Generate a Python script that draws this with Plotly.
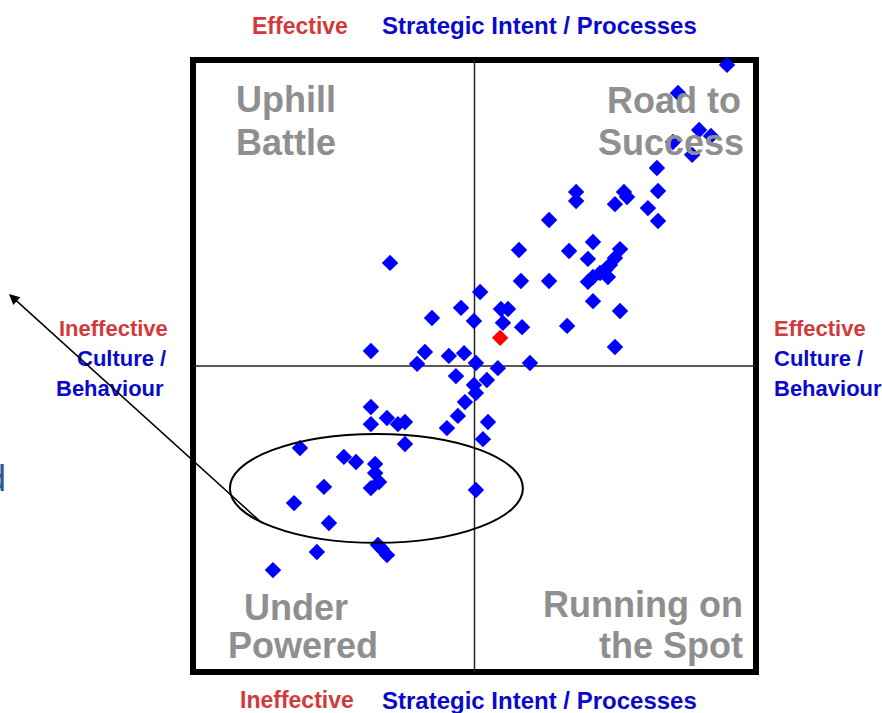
import plotly.graph_objects as go

# ---- data (scores on a -10..10 scale) ----
strategy_scores = [8.97, 7.23, 7.98, 8.40, 7.05, 7.73, 6.48, 3.61, 3.61, 5.31, 5.42, 4.99, 6.52, 6.16,
                   6.52, 2.65, 1.58, 3.36, 4.21, 4.03, 5.17, 4.99, 4.81, 4.64, 4.46, 4.21, 4.03, 4.74,
                   1.65, 2.65, 4.21, 5.17, 0.94, 1.19, 1.01, 1.69, 3.29, 4.99, 0.83, 1.97, -3.00, 0.20,
                   -0.48, -1.51, -0.02, -3.68, -1.76, -2.04, -0.91, -0.37, 0.05, -0.66, 0.44, -0.02, 0.05,
                   -0.34, -3.68, -0.59, -0.98, 0.48, 0.30, -3.68, -3.11, -2.72, -2.47, -2.47, -6.20, -4.64,
                   -4.21, -3.53, -3.53, -3.39, -3.68, -5.35, 0.05, -6.41, -5.17, -3.43, -3.29, -3.11, -5.60,
                   -7.16]
culture_scores = [9.84, 8.92, 7.71, 7.52, 7.32, 6.90, 6.47, 5.69, 5.39, 5.69, 5.52, 5.29, 5.72, 5.16,
                  4.74, 4.77, 3.79, 3.76, 4.05, 3.50, 3.82, 3.53, 3.30, 3.14, 3.04, 2.91, 2.75, 2.91,
                  2.78, 2.78, 2.12, 1.80, 1.86, 1.86, 1.41, 1.27, 1.31, 0.62, -0.07, 0.10, 3.37, 2.42,
                  1.90, 1.57, 1.47, 0.49, 0.46, 0.07, 0.33, 0.42, 0.10, -0.33, -0.46, -0.62, -0.88,
                  -1.18, -1.34, -1.63, -2.03, -1.83, -2.39, -1.90, -1.70, -1.90, -1.83, -2.55, -2.68, -2.97,
                  -3.14, -3.20, -3.50, -3.79, -3.99, -3.95, -4.05, -4.48, -5.13, -5.85, -5.98, -6.18, -6.08,
                  -6.67]
highlight_x = [0.91]
highlight_y = [0.92]

quadrant_names = ["Uphill", "Battle", "Road to", "Success", "Under", "Powered", "Running on", "the Spot"]
axis_low = "Ineffective"
axis_high = "Effective"
strategy_title = "Strategic Intent / Processes"
culture_lines = ["Culture /", "Behaviour"]

# ---- layout geometry ----
W, H = 882, 713
L, R, T, B = 193, 756, 60, 672


def px(p):
    return (p - L) / (R - L)


def py(p):
    return (B - p) / (B - T)


BLUE = "#0a0acc"
RED = "#d23a3a"
GRAY = "#8f8f8f"
FONT = "Liberation Sans, Arial, sans-serif"

fig = go.Figure()
fig.add_trace(go.Scatter(
    x=strategy_scores, y=culture_scores, mode="markers", cliponaxis=False,
    marker=dict(symbol="diamond", size=11, color="#0000ff", line=dict(color="#0000ff", width=1.5)),
))
fig.add_trace(go.Scatter(
    x=highlight_x, y=highlight_y, mode="markers", cliponaxis=False,
    marker=dict(symbol="diamond", size=11, color="#ff0000", line=dict(color="#ff0000", width=1.5)),
))

shapes = [
    dict(type="rect", xref="paper", yref="paper", x0=0, x1=1, y0=0, y1=1,
         line=dict(color="black", width=6), layer="below"),
    dict(type="line", xref="x", yref="paper", x0=0, x1=0, y0=0, y1=1,
         line=dict(color="#222222", width=1.5), layer="below"),
    dict(type="line", xref="paper", yref="y", x0=0, x1=1, y0=0, y1=0,
         line=dict(color="#222222", width=1.5), layer="below"),
    dict(type="circle", xref="x", yref="y", x0=-8.69, x1=1.72, y0=-5.78, y1=-2.22,
         line=dict(color="black", width=2)),
]

ann = []


def txt(text, x, y, size, color, xanchor="center", bold=True):
    ann.append(dict(text=("<b>%s</b>" % text) if bold else text, xref="paper", yref="paper",
                    x=px(x), y=py(y), xanchor=xanchor, yanchor="middle", showarrow=False,
                    font=dict(family=FONT, size=size, color=color)))


# quadrant labels
txt(quadrant_names[0], 234, 99, 36, GRAY, "left")
txt(quadrant_names[1], 234, 142, 36, GRAY, "left")
txt(quadrant_names[2], 743, 100, 36, GRAY, "right")
txt(quadrant_names[3], 746, 142, 36, GRAY, "right")
txt(quadrant_names[4], 296, 607, 36, GRAY, "center")
txt(quadrant_names[5], 303, 645, 36, GRAY, "center")
txt(quadrant_names[6], 745, 604, 36, GRAY, "right")
txt(quadrant_names[7], 745, 645, 36, GRAY, "right")

# top / bottom
txt(axis_high, 300, 26, 23, RED, "center")
txt(strategy_title, 539, 26, 24, BLUE, "center")
txt(axis_low, 297, 700, 23, RED, "center")
txt(strategy_title, 539, 700, 24, BLUE, "center")

# left
txt(axis_low, 170, 328, 22, RED, "right")
txt(culture_lines[0], 168, 358, 22, BLUE, "right")
txt(culture_lines[1], 166, 388, 22, BLUE, "right")
# right
txt(axis_high, 772, 328, 22, RED, "left")
txt(culture_lines[0], 772, 358, 22, BLUE, "left")
txt(culture_lines[1], 772, 388, 22, BLUE, "left")

# clipped letter at left edge
ann.append(dict(text="d", xref="paper", yref="paper", x=px(8), y=py(478), xanchor="right",
                yanchor="middle", showarrow=False,
                font=dict(family=FONT, size=36, color="#2d5a8e")))

# arrow
ann.append(dict(text="", xref="paper", yref="paper", x=px(9), y=py(294), ax=263 - 9, ay=524 - 294,
                axref="pixel", ayref="pixel", showarrow=True, arrowhead=2, arrowsize=1.4,
                arrowwidth=1.5, arrowcolor="black"))

fig.update_layout(
    width=W, height=H, margin=dict(l=L, r=W - R, t=T, b=H - B),
    paper_bgcolor="white", plot_bgcolor="white", showlegend=False,
    shapes=shapes, annotations=ann,
    xaxis=dict(range=[-10, 10], showgrid=False, zeroline=False, showticklabels=False, ticks=""),
    yaxis=dict(range=[-10, 10], showgrid=False, zeroline=False, showticklabels=False, ticks=""),
)
fig.write_html("out.html", config={"displayModeBar": False},
               post_script="document.body.style.margin='0';document.body.style.overflow='hidden';")
